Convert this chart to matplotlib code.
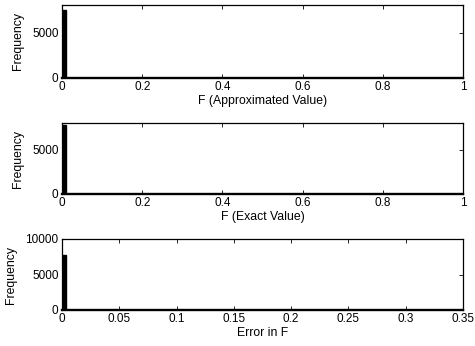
import matplotlib
matplotlib.use("Agg")
import matplotlib.pyplot as plt
import numpy as np

plt.rcParams['font.family'] = ['Liberation Sans', 'DejaVu Sans']
plt.rcParams['font.size'] = 8.5

# Histogram counts (100 bins each); leading bins, rest ~0
approx_counts = [7600, 25, 15, 10, 8, 6, 5, 4, 3, 3, 2, 2, 2, 1, 1, 1, 1, 1]
exact_counts = [7800, 40, 20, 12, 9, 7, 5, 4, 3, 3, 2, 2, 2, 1, 1, 1, 1, 1]
error_counts = [7700, 60, 30, 20, 12, 8, 6, 5, 4, 3, 3, 2, 2, 2, 1, 1, 1, 1]
n_bins = 100
approx_range = (0.0, 1.0)
exact_range = (0.0, 1.0)
error_range = (0.0, 0.33)

xlabels = ["F (Approximated Value)", "F (Exact Value)", "Error in F"]
xlims = [(0, 1), (0, 1), (0, 0.35)]
ylims = [(0, 8100), (0, 8000), (0, 10000)]
xticks = [[0, 0.2, 0.4, 0.6, 0.8, 1], [0, 0.2, 0.4, 0.6, 0.8, 1],
          [0, 0.05, 0.1, 0.15, 0.2, 0.25, 0.3, 0.35]]
xticklabels = [["0", "0.2", "0.4", "0.6", "0.8", "1"],
               ["0", "0.2", "0.4", "0.6", "0.8", "1"],
               ["0", "0.05", "0.1", "0.15", "0.2", "0.25", "0.3", "0.35"]]
yticks = [[0, 5000], [0, 5000], [0, 5000, 10000]]

fig = plt.figure(figsize=(4.75, 3.46), dpi=100)
positions = [
    [62/475, (346-78)/346, 401/475, 73/346],
    [62/475, (346-194)/346, 401/475, 71/346],
    [62/475, (346-310)/346, 401/475, 71/346],
]
datasets = [(approx_counts, approx_range), (exact_counts, exact_range), (error_counts, error_range)]

for i, (counts, rng) in enumerate(datasets):
    ax = fig.add_axes(positions[i])
    full = np.zeros(n_bins)
    full[:len(counts)] = counts
    edges = np.linspace(rng[0], rng[1], n_bins + 1)
    width = edges[1] - edges[0]
    ax.bar(edges[:-1], full, width=width, align='edge', color='black',
           edgecolor='black', linewidth=1.0)
    ax.set_xlim(*xlims[i])
    ax.set_ylim(*ylims[i])
    ax.set_xticks(xticks[i])
    ax.set_xticklabels(xticklabels[i])
    ax.set_yticks(yticks[i])
    ax.set_yticklabels([str(v) for v in yticks[i]])
    ax.set_xlabel(xlabels[i], labelpad=1, fontsize=8.8)
    ax.set_ylabel("Frequency", labelpad=6, fontsize=8.8)
    ax.tick_params(direction='in', top=True, right=True, length=3, width=0.6, pad=2.5)
    for s in ax.spines.values():
        s.set_linewidth(0.9)
    ax.spines['bottom'].set_linewidth(1.7)

fig.savefig("out.png", dpi=100)
